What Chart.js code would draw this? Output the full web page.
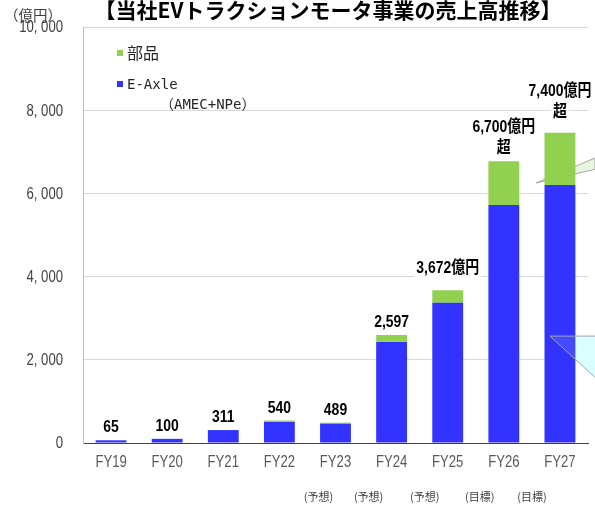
<!DOCTYPE html>
<html><head><meta charset="utf-8">
<script src="https://cdn.jsdelivr.net/npm/chart.js@4/dist/chart.umd.min.js"></script>
<style>html,body{margin:0;padding:0;background:#fff}canvas{display:block}</style>
</head><body>
<canvas id="c" width="595" height="506"></canvas>
<script>
const categories = ['FY19','FY20','FY21','FY22','FY23','FY24','FY25','FY26','FY27'];
const subLabels = ['','','','','(予想)','(予想)','(予想)','(目標)','(目標)'];
const eAxleValues = [65,100,311,505,465,2430,3370,5720,6200];
const partsValues = [0,0,0,35,24,167,302,1050,1260];
const totalLabels = [['65'],['100'],['311'],['540'],['489'],['2,597'],['3,672億円'],['6,700億円','超'],['7,400億円','超']];
const yTickValues = [0,2000,4000,6000,8000,10000];
const seriesNames = ['E-Axle','部品'];

const SANS = '"Liberation Sans", Arial, "Noto Sans CJK JP", sans-serif';
const CJK = '"Noto Sans CJK JP", sans-serif';
const MONO = '"DejaVu Sans Mono", "Noto Sans CJK JP", monospace';
const BLUE = '#3333FF', GREEN = '#92D050';
const NARROW_X = 0.82;

function fmt(v){ const s = String(v); return s.length > 3 ? s.slice(0, s.length-3) + ', ' + s.slice(-3) : s; }

function narrowText(ctx, text, x, y, sx){
  ctx.save();
  ctx.translate(x, y);
  ctx.scale(sx, 1);
  ctx.fillText(text, 0, 0);
  ctx.restore();
}

const decorPlugin = {
  id: 'decor',
  beforeDatasetsDraw(chart){
    const {ctx, scales:{x, y}} = chart;
    const W = chart.width;
    const cx = x.getPixelForValue(8);
    ctx.save();
    ctx.beginPath();
    ctx.moveTo(cx - 24, y.getPixelForValue(6250));
    ctx.lineTo(W, y.getPixelForValue(6850));
    ctx.lineTo(W, y.getPixelForValue(6580));
    ctx.closePath();
    ctx.fillStyle = '#E8F6DF'; ctx.fill();
    ctx.strokeStyle = '#A6A6A6'; ctx.lineWidth = 1; ctx.stroke();
    ctx.beginPath();
    ctx.moveTo(cx - 10, y.getPixelForValue(2570));
    ctx.lineTo(W, y.getPixelForValue(2570));
    ctx.lineTo(W, y.getPixelForValue(1580));
    ctx.closePath();
    ctx.fillStyle = '#DDFFFF'; ctx.fill();
    ctx.restore();
  },
  afterDatasetsDraw(chart){
    const {ctx, scales:{x, y}} = chart;
    const W = chart.width;
    const cx = x.getPixelForValue(8);
    ctx.save();
    ctx.beginPath();
    ctx.moveTo(cx - 10, y.getPixelForValue(2570));
    ctx.lineTo(W, y.getPixelForValue(2570));
    ctx.lineTo(W, y.getPixelForValue(1580));
    ctx.closePath();
    ctx.fillStyle = 'rgba(200,255,255,0.12)'; ctx.fill();
    ctx.beginPath();
    ctx.moveTo(W, y.getPixelForValue(2570));
    ctx.lineTo(cx - 10, y.getPixelForValue(2570));
    ctx.lineTo(W, y.getPixelForValue(1580));
    ctx.strokeStyle = '#A6A6A6'; ctx.lineWidth = 1; ctx.stroke();

    // value labels
    const lift = [0,0,0,0,0,0,9,0,8];
    ctx.font = 'bold 17px ' + SANS;
    ctx.textAlign = 'center';
    ctx.textBaseline = 'alphabetic';
    totalLabels.forEach((lines, i) => {
      const top = y.getPixelForValue(eAxleValues[i] + partsValues[i]);
      const px = x.getPixelForValue(i);
      const base = top - 8 - lift[i];
      lines.forEach((t, k) => {
        const by = base - (lines.length - 1 - k) * 21;
        const w = ctx.measureText(t).width * NARROW_X;
        ctx.fillStyle = '#fff';
        ctx.fillRect(px - w/2 - 2, by - 15, w + 4, 20);
      });
      lines.forEach((t, k) => {
        const by = base - (lines.length - 1 - k) * 21;
        ctx.fillStyle = '#000';
        narrowText(ctx, t, px, by, NARROW_X);
      });
    });
    ctx.restore();
  },
  afterDraw(chart){
    const {ctx, scales:{x, y}} = chart;
    ctx.save();
    // x tick labels
    ctx.font = '16px ' + SANS;
    ctx.fillStyle = '#595959';
    ctx.textAlign = 'center'; ctx.textBaseline = 'middle';
    x.ticks.forEach((t, i) => {
      narrowText(ctx, categories[t.value], x.getPixelForValue(t.value), 463, NARROW_X);
    });
    // y tick labels
    ctx.fillStyle = '#404040';
    ctx.textAlign = 'right';
    y.ticks.forEach(t => {
      narrowText(ctx, fmt(t.value), 63, y.getPixelForValue(t.value) + 1, NARROW_X);
    });
    // title
    ctx.font = 'bold 21px ' + CJK;
    ctx.fillStyle = '#000';
    ctx.textAlign = 'center'; ctx.textBaseline = 'middle';
    ctx.fillText('【当社EVトラクションモータ事業の売上高推移】', 328, 10);
    // unit
    ctx.font = '14.5px ' + CJK;
    ctx.fillStyle = '#404040';
    ctx.textAlign = 'left';
    ctx.fillText('（億円）', 4, 15);
    // legend
    ctx.fillStyle = GREEN; ctx.fillRect(117, 50, 6, 6);
    ctx.fillStyle = BLUE; ctx.fillRect(117, 81, 6, 6);
    ctx.fillStyle = '#262626';
    ctx.font = '16px ' + CJK;
    ctx.fillText(seriesNames[1], 127, 53);
    ctx.font = '14px ' + MONO;
    ctx.fillText(seriesNames[0], 127, 85);
    ctx.fillText('（AMEC+NPe）', 160, 105);
    // sub labels
    const offs = [0,0,0,0,-17,-23,-23,-24,-28];
    ctx.font = '11px ' + CJK;
    ctx.fillStyle = '#404040';
    ctx.textAlign = 'center';
    subLabels.forEach((t, i) => {
      if (!t) return;
      ctx.fillText(t, x.getPixelForValue(i) + offs[i], 497);
    });
    ctx.restore();
  }
};

new Chart(document.getElementById('c'), {
  type: 'bar',
  data: {
    labels: categories,
    datasets: [
      { label: seriesNames[0], data: eAxleValues, backgroundColor: BLUE, barPercentage: 0.55, categoryPercentage: 1 },
      { label: seriesNames[1], data: partsValues, backgroundColor: GREEN, barPercentage: 0.55, categoryPercentage: 1 }
    ]
  },
  options: {
    responsive: false, animation: false, devicePixelRatio: 1,
    layout: { padding: { top: 27, right: 7, left: 0, bottom: 0 } },
    plugins: { legend: { display: false }, tooltip: { enabled: false }, title: { display: false } },
    scales: {
      x: {
        stacked: true,
        grid: { display: false },
        border: { color: '#404040', width: 1 },
        ticks: { display: false },
        afterFit(s){ s.height = 63; }
      },
      y: {
        stacked: true, min: 0, max: 10000,
        afterBuildTicks(s){ s.ticks = yTickValues.map(v => ({ value: v })); },
        grid: { color: '#D9D9D9', drawTicks: false },
        border: { color: '#BFBFBF', width: 1 },
        ticks: { display: false },
        afterFit(s){ s.width = 83; }
      }
    }
  },
  plugins: [decorPlugin]
});
</script>
</body></html>
